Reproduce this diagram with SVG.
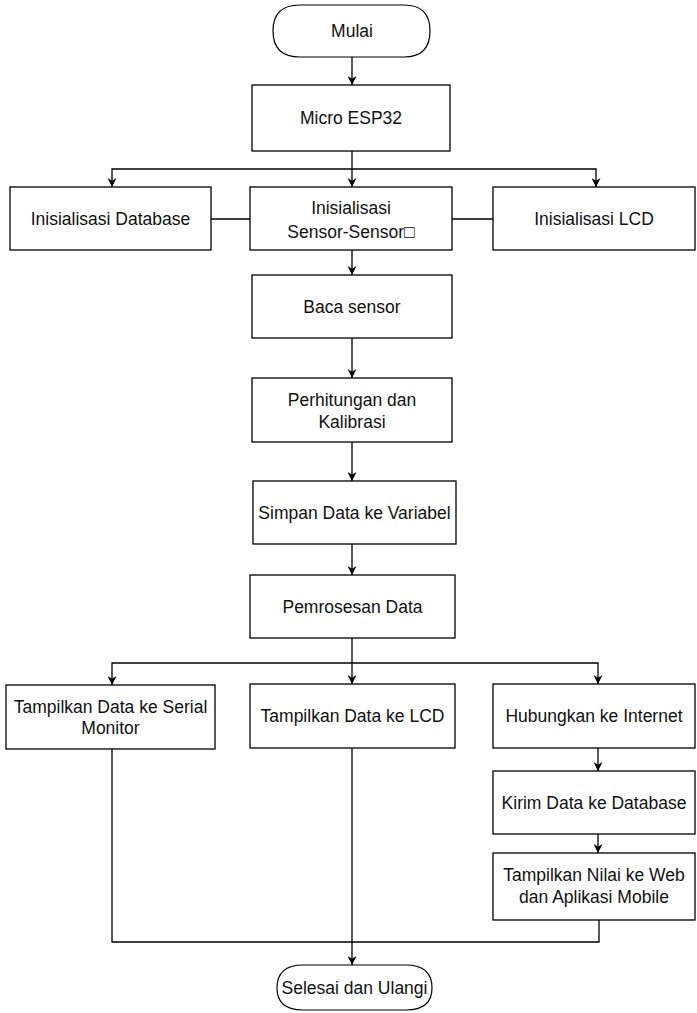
<svg xmlns="http://www.w3.org/2000/svg" width="697" height="1013" viewBox="0 0 697 1013">
<style>
.box{fill:#fff;stroke:#000;stroke-width:1.3}
.term{fill:#fff;stroke:#000;stroke-width:1.2}
.t{font-family:"Liberation Sans",Arial,sans-serif;font-size:17.5px;fill:#111;text-anchor:middle}
.c{fill:none;stroke:#000;stroke-width:1.3}
.a{marker-end:url(#arr)}
</style>
<defs>
<marker id="arr" viewBox="0 0 10 10" refX="10" refY="5" markerWidth="9" markerHeight="9" markerUnits="userSpaceOnUse" orient="auto">
<path d="M0,0 L10,5 L0,10 L3,5 z" fill="#000"/>
</marker>
</defs>
<g id="connectors">
<path class="c a" d="M352,57 V85"/>
<path class="c a" d="M352,151 V187"/>
<path class="c a" d="M352,169 H112 V187"/>
<path class="c a" d="M352,169 H596 V187"/>
<path class="c" d="M211,219 H250"/>
<path class="c" d="M452,219 H493"/>
<path class="c a" d="M352,250 V275"/>
<path class="c a" d="M352,338 V378"/>
<path class="c a" d="M352,442 V481"/>
<path class="c a" d="M352,544 V575"/>
<path class="c a" d="M352,638 V684"/>
<path class="c a" d="M352,663 H112 V685"/>
<path class="c a" d="M352,663 H598 V684"/>
<path class="c a" d="M598,748 V771"/>
<path class="c a" d="M598,834 V853"/>
<path class="c a" d="M352,748 V965"/>
<path class="c" d="M112,749 V942 H599 V920"/>
</g>
<g id="mulai">
<path class="term" d="M300,5 H404 Q430,5 430,31 Q430,57 404,57 H300 Q273,57 273,31 Q273,5 300,5 Z"/>
<text class="t" x="352" y="37">Mulai</text>
</g>
<g id="micro">
<rect class="box" x="252" y="85" width="198" height="66"/>
<text class="t" x="351" y="124">Micro ESP32</text>
</g>
<g id="init-db">
<rect class="box" x="10" y="187" width="201" height="63"/>
<text class="t" x="110.5" y="225">Inisialisasi Database</text>
</g>
<g id="init-sensor">
<rect class="box" x="250" y="187" width="202" height="63"/>
<text class="t" x="351" y="214">Inisialisasi</text>
<text class="t" x="351" y="238">Sensor-Sensor□</text>
</g>
<g id="init-lcd">
<rect class="box" x="493" y="187" width="202" height="63"/>
<text class="t" x="594" y="225">Inisialisasi LCD</text>
</g>
<g id="baca">
<rect class="box" x="252" y="275" width="200" height="63"/>
<text class="t" x="352" y="313">Baca sensor</text>
</g>
<g id="hitung">
<rect class="box" x="252" y="378" width="200" height="64"/>
<text class="t" x="352" y="406">Perhitungan dan</text>
<text class="t" x="352" y="428">Kalibrasi</text>
</g>
<g id="simpan">
<rect class="box" x="253" y="481" width="203" height="63"/>
<text class="t" x="354.5" y="519">Simpan Data ke Variabel</text>
</g>
<g id="proses">
<rect class="box" x="250" y="575" width="205" height="63"/>
<text class="t" x="352.5" y="613">Pemrosesan Data</text>
</g>
<g id="serial">
<rect class="box" x="6" y="685" width="209" height="64"/>
<text class="t" x="110.5" y="713">Tampilkan Data ke Serial</text>
<text class="t" x="110.5" y="734">Monitor</text>
</g>
<g id="tampil-lcd">
<rect class="box" x="250" y="684" width="205" height="64"/>
<text class="t" x="352.5" y="722">Tampilkan Data ke LCD</text>
</g>
<g id="internet">
<rect class="box" x="493" y="684" width="202" height="64"/>
<text class="t" x="594" y="722">Hubungkan ke Internet</text>
</g>
<g id="kirim">
<rect class="box" x="493" y="771" width="202" height="63"/>
<text class="t" x="594" y="809">Kirim Data ke Database</text>
</g>
<g id="nilai">
<rect class="box" x="493" y="853" width="202" height="67"/>
<text class="t" x="594" y="881">Tampilkan Nilai ke Web</text>
<text class="t" x="594" y="903">dan Aplikasi Mobile</text>
</g>
<g id="selesai">
<path class="term" d="M303,965 H406 Q432,965 432,988 Q432,1010 406,1010 H303 Q277,1010 277,988 Q277,965 303,965 Z"/>
<text class="t" x="354.5" y="994">Selesai dan Ulangi</text>
</g>
</svg>
